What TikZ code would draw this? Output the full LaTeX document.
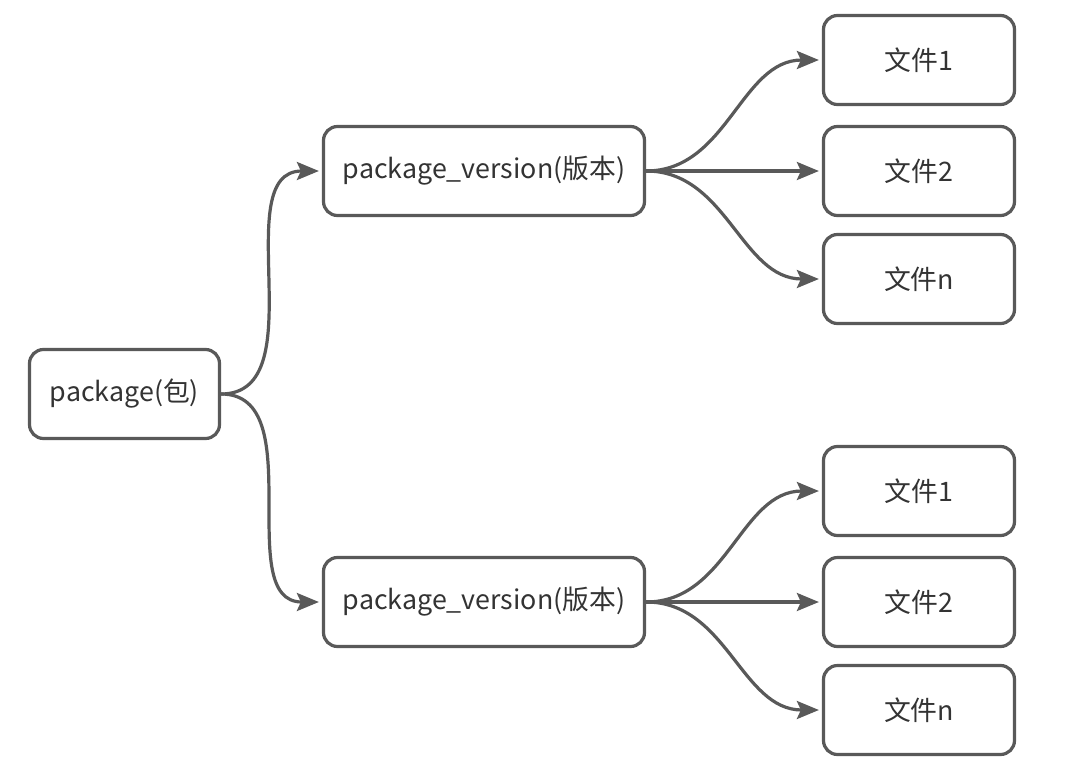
\documentclass[tikz,border=0pt]{standalone}
\usepackage{fontspec}
\setmainfont{Noto Sans CJK SC}
\usetikzlibrary{arrows.meta}
\definecolor{linegray}{HTML}{595959}
\definecolor{textgray}{HTML}{333333}
\tikzset{
    round-box/.style = {draw=linegray, fill=white, line width=3.2pt, rectangle, rounded corners=14pt, minimum height=89pt, text=textgray, font=\fontsize{26.8}{32}\selectfont},
    file-box/.style = {round-box, minimum width=191pt},
    link/.style = {draw=linegray, line width=3.2pt, -{Stealth[length=22pt,width=18pt,inset=4pt]}, shorten >=3pt},
}

\begin{document}
\begin{tikzpicture}[x=1pt,y=-1pt]
\useasboundingbox (0,0) rectangle (1080,774);
\node [round-box, minimum width=190pt] (pkg) at (124.5,394) {package(包)};
\node [round-box, minimum width=321pt] (ver1) at (484,171) {package\_version(版本)};
\node [round-box, minimum width=321pt] (ver2) at (484,602) {package\_version(版本)};
% files of each version
\foreach \v/\ya/\yb/\yc in {1/60/171/279, 2/491/602/710} {
    \node [file-box] (file\v-1) at (919,\ya) {文件1};
    \node [file-box] (file\v-2) at (919,\yb) {文件2};
    \node [file-box] (file\v-n) at (919,\yc) {文件n};
    \foreach \f in {1,2,n}
        \draw [link] (ver\v.east) to[out=0, in=180] (file\v-\f.west);
}
\draw [link] (pkg.east) to[out=0, in=180] (ver1.west);
\draw [link] (pkg.east) to[out=0, in=180] (ver2.west);
\end{tikzpicture}
\end{document}
